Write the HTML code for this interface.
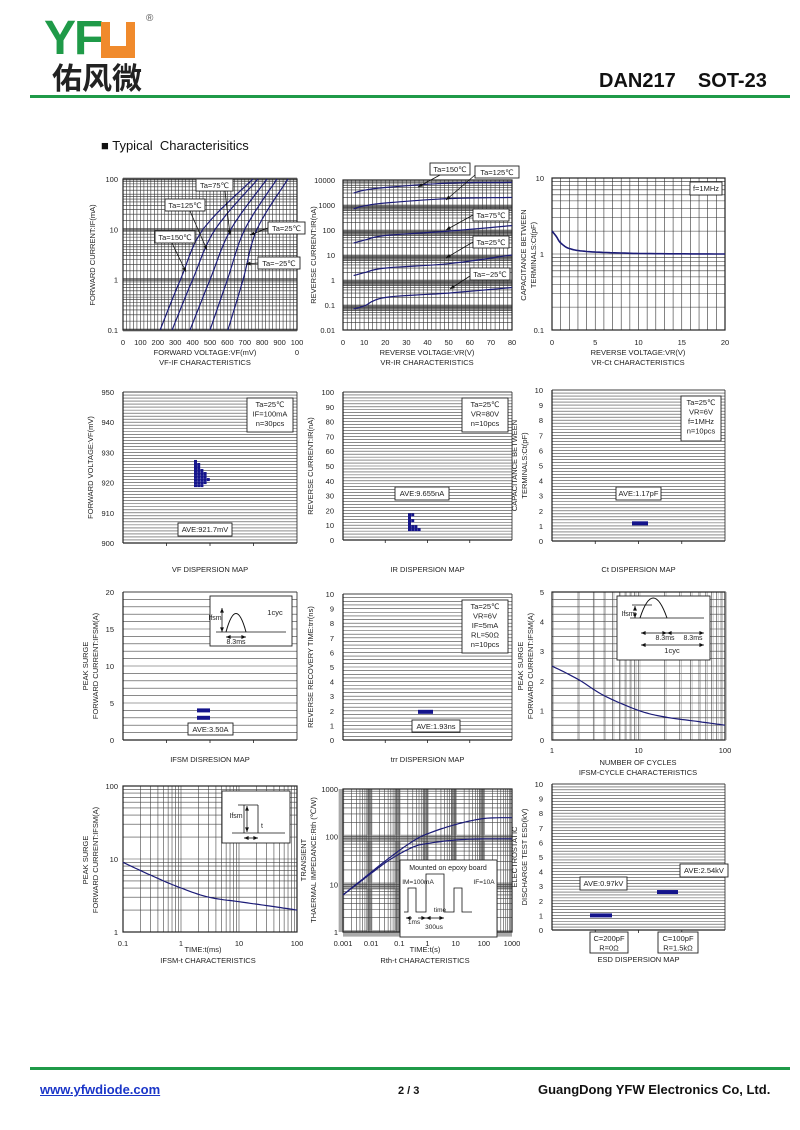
<!DOCTYPE html>
<html><head><meta charset="utf-8">
<style>
html,body{margin:0;padding:0;background:#fff;}
body{width:800px;height:1130px;position:relative;overflow:hidden;font-family:"Liberation Sans",sans-serif;}
.abs{position:absolute;white-space:nowrap;}
</style></head>
<body>
<div class="abs" style="left:44px;top:16px;font-size:48px;font-weight:bold;line-height:46px;letter-spacing:-2px;color:#1f9a48;">YF<span style="display:inline-block;width:34px;height:36px;background:#f08a2c;vertical-align:top;margin-top:6px;position:relative;"><span style="position:absolute;left:9px;top:0;width:16px;height:24px;background:#fff;"></span></span></div>
<div class="abs" style="left:146px;top:13px;font-size:10px;color:#555;">®</div>
<div class="abs" style="left:52px;top:60px;font-size:30px;font-weight:bold;line-height:32px;color:#222;font-family:'Noto Sans CJK SC',sans-serif;">佑风微</div>
<div class="abs" style="left:599px;top:70px;font-size:20px;font-weight:bold;color:#111;">DAN217&nbsp;&nbsp;&nbsp;&nbsp;SOT-23</div>
<div class="abs" style="left:30px;top:95px;width:760px;height:3px;background:#1f9a48;"></div>
<div class="abs" style="left:101px;top:138px;font-size:13px;color:#111;">■ Typical&nbsp; Characterisitics</div>
<div class="abs" style="left:30px;top:1067px;width:760px;height:3px;background:#1f9a48;"></div>
<div class="abs" style="left:40px;top:1082px;font-size:13px;font-weight:bold;color:#1a35c8;text-decoration:underline;">www.yfwdiode.com</div>
<div class="abs" style="left:398px;top:1085px;font-size:11px;font-weight:bold;color:#111;">2 / 3</div>
<div class="abs" style="left:538px;top:1082px;font-size:13px;font-weight:bold;color:#111;">GuangDong YFW Electronics Co, Ltd.</div>
<svg id="s" width="800" height="1130" style="position:absolute;left:0;top:0;" xmlns="http://www.w3.org/2000/svg"></svg>
<script>
var o='';var NV='#1c1c78';var GR='#333';
function L(x1,y1,x2,y2,c,w){o+='<line x1="'+x1+'" y1="'+y1+'" x2="'+x2+'" y2="'+y2+'" stroke="'+(c||GR)+'" stroke-width="'+(w||0.6)+'"/>';}
function R(x,y,w,h,f,s,sw){o+='<rect x="'+x+'" y="'+y+'" width="'+w+'" height="'+h+'" fill="'+(f||'none')+'" stroke="'+(s||'none')+'" stroke-width="'+(sw||1)+'"/>';}
function T(x,y,t,sz,anc,rot){o+='<text x="'+x+'" y="'+y+'" font-size="'+(sz||8)+'" fill="#222" font-family="Liberation Sans,DejaVu Sans,sans-serif" text-anchor="'+(anc||'middle')+'"'+(rot?' transform="rotate(-90 '+x+' '+y+')"':'')+'>'+t+'</text>';}
function P(pts,c,w){o+='<polyline points="'+pts.map(function(p){return p[0].toFixed(1)+','+p[1].toFixed(1)}).join(' ')+'" fill="none" stroke="'+(c||NV)+'" stroke-width="'+(w||1.2)+'"/>';}
function lin(a,b,p0,p1){return function(v){return p0+(v-a)/(b-a)*(p1-p0);};}
function lg(a,b,p0,p1){return function(v){return p0+(Math.log10(v)-Math.log10(a))/(Math.log10(b)-Math.log10(a))*(p1-p0);};}
function logvals(a,b,ks){var r=[];for(var d=Math.log10(a);d<Math.log10(b)-1e-9;d++){ks.forEach(function(k){r.push(k*Math.pow(10,d));});}r.push(b);return r;}
function box(x,y,lines,w,h){R(x,y,w,h,'#fff','#222',0.9);lines.forEach(function(t,i){T(x+w/2,y+9+i*9.5,t,7.5);});}
function frame(x0,y0,x1,y1){R(x0,y0,x1-x0,y1-y0,'none','#222',1.2);}
function smooth(fx,fy,pts){var q=pts.map(function(p){return [fx(p[0]),fy(p[1])];});var r=[];var n=q.length;
for(var i=0;i<n-1;i++){var p0=q[Math.max(i-1,0)],p1=q[i],p2=q[i+1],p3=q[Math.min(i+2,n-1)];
for(var s=0;s<10;s++){var t=s/10,t2=t*t,t3=t2*t;r.push([0,1].map(function(k){return 0.5*((2*p1[k])+(-p0[k]+p2[k])*t+(2*p0[k]-5*p1[k]+4*p2[k]-p3[k])*t2+(-p0[k]+3*p1[k]-3*p2[k]+p3[k])*t3);}));}}
r.push(q[n-1]);return r;}
function arrow(x1,y1,x2,y2){L(x1,y1,x2,y2,'#111',0.8);var a=Math.atan2(y2-y1,x2-x1),s=5;o+='<polygon points="'+x2+','+y2+' '+(x2-s*Math.cos(a-0.4))+','+(y2-s*Math.sin(a-0.4))+' '+(x2-s*Math.cos(a+0.4))+','+(y2-s*Math.sin(a+0.4))+'" fill="#111"/>';}

/* C1 VF-IF */
(function(){var x0=123,y0=179,x1=297,y1=330;var fx=lin(0,1000,x0,x1),fy=lg(0.1,100,y1,y0);
for(var v=0;v<=1000;v+=20)L(fx(v),y0,fx(v),y1);
logvals(0.1,100,[1,1.5,2,2.5,3,3.5,4,4.5,5,6,7,8,9]).forEach(function(v){L(x0,fy(v),x1,fy(v));});
[0.1,1,10,100].forEach(function(v){L(x0,fy(v)-1,x1,fy(v)-1,GR,0.6);L(x0,fy(v)+1,x1,fy(v)+1,GR,0.6);});
frame(x0,y0,x1,y1);
var c=[[213,330,460,747],[282,400,530,776],[385,500,620,828],[500,600,700,885],[603,690,770,948]];
c.forEach(function(a){P(smooth(fx,fy,[[a[0],0.1],[a[1],1],[a[2],10],[a[3],100]]));});
['0.1','1','10','100'].forEach(function(t,i){T(x0-5,fy([0.1,1,10,100][i])+3,t,7.5,'end');});
for(var i=0;i<=9;i++)T(fx(i*100),345,i==0?'0':i*100,7.5);T(fx(1000),345,'100',7.5);T(fx(1000),355,'0',7.5);
T(205,355,'FORWARD VOLTAGE:VF(mV)',7.5);T(205,365,'VF-IF CHARACTERISTICS',7.5);
T(95,255,'FORWARD CURRENT:IF(mA)',7.5,'middle',1);
box(196,179,['Ta=75℃'],37,12);arrow(225,191,230,235);
box(165,199,['Ta=125℃'],40,12);arrow(190,211,207,250);
box(155,231,['Ta=150℃'],40,12);arrow(172,243,186,272);
box(268,222,['Ta=25℃'],37,12);arrow(268,228,250,235);
box(258,257,['Ta=−25℃'],42,12);arrow(258,263,246,264);
})();
/* C2 VR-IR */
(function(){var x0=343,y0=180,x1=512,y1=330;var fx=lin(0,80,x0,x1),fy=lg(0.01,10000,y1,y0);
[0.1,1,10,100,1000].forEach(function(v){R(x0,fy(v),x1-x0,fy(v*0.6)-fy(v),'#999');});
for(var v=0;v<=80;v+=2)L(fx(v),y0,fx(v),y1);
logvals(0.01,10000,[1,2,3,4,5,6,7,8,9]).forEach(function(v){L(x0,fy(v),x1,fy(v));});
frame(x0,y0,x1,y1);
[[3000,5000,8000],[700,1200,2000],[30,60,150],[1.5,3,10],[0.07,0.2,0.5]].forEach(function(a){P(smooth(fx,fy,[[5,a[0]],[10,a[0]*1.3],[20,a[1]],[50,a[1]*1.5],[80,a[2]]]));});
['0.01','0.1','1','10','100','1000','10000'].forEach(function(t,i){T(x0-8,fy(Math.pow(10,i-2))+3,t,7.5,'end');});
for(var i=0;i<=8;i++)T(fx(i*10),345,i*10,7.5);
T(427,355,'REVERSE VOLTAGE:VR(V)',7.5);T(427,365,'VR-IR CHARACTERISTICS',7.5);
T(316,255,'REVERSE CURRENT:IR(nA)',7.5,'middle',1);
box(430,163,['Ta=150℃'],40,12);arrow(440,175,418,187);
box(475,166,['Ta=125℃'],44,12);arrow(475,175,446,200);
box(473,209,['Ta=75℃'],36,12);arrow(473,215,446,230);
box(473,236,['Ta=25℃'],36,12);arrow(473,242,446,258);
box(470,268,['Ta=−25℃'],40,12);arrow(470,276,450,289);
})();
/* C3 VR-Ct */
(function(){var x0=552,y0=178,x1=725,y1=330;var fx=lin(0,20,x0,x1),fy=lg(0.1,10,y1,y0);
for(var v=0;v<=20;v+=1)L(fx(v),y0,fx(v),y1);
logvals(0.1,10,[1,2,3,4,5,6,7,8,9]).forEach(function(v){L(x0,fy(v),x1,fy(v));});
frame(x0,y0,x1,y1);
P(smooth(fx,fy,[[0,2],[0.5,1.7],[1,1.4],[2,1.18],[4,1.08],[8,1.03],[12,1.01],[20,1.0]]),NV,1.6);
T(x0-8,fy(10)+3,'10',7.5,'end');T(x0-8,fy(1)+3,'1',7.5,'end');T(x0-8,fy(0.1)+3,'0.1',7.5,'end');
[0,5,10,15,20].forEach(function(v){T(fx(v),345,v,7.5);});
T(638,355,'REVERSE VOLTAGE:VR(V)',7.5);T(638,365,'VR-Ct CHARACTERISTICS',7.5);
T(526,255,'CAPACITANCE BETWEEN',7.5,'middle',1);T(536,255,'TERMINALS:Ct(pF)',7.5,'middle',1);
box(690,182,['f=1MHz'],32,13);
})();
function disp(x0,y0,x1,y1,lo,hi,step,labstep,ytitle,title,ty){var fy=lin(lo,hi,y1,y0);
for(var v=lo;v<=hi+1e-9;v+=step)L(x0,fy(v),x1,fy(v),'#444',0.6);
L(x0,y0,x0,y1,'#222',1.2);L(x0,y1,x1,y1,'#222',1.2);L(x0,y0,x1,y0,'#222',0.8);L(x1,y0,x1,y1,'#222',0.8);
for(var i=1;i<4;i++){var xx=x0+(x1-x0)*i/4;L(xx,y1,xx,y1+3,'#222',0.8);}
for(var v=lo;v<=hi+1e-9;v+=labstep)T(x0-9,fy(v)+3,Math.round(v*10)/10,7.5,'end');
ytitle.forEach(function(t,i){T(x0-30+i*10-(ytitle.length-1)*5,(y0+y1)/2,t,7.5,'middle',1);});
T((x0+x1)/2,ty,title,7.5);return fy;}
/* Row2 */
(function(){var fy=disp(123,392,297,543,900,950,1,10,['FORWARD VOLTAGE:VF(mV)'],'VF DISPERSION MAP',572);
for(var r=0;r<9;r++){var n=[1,2,2,3,4,4,5,4,3][r];for(var k=0;k<n;k++)R(194+k*3.2,fy(927-r)-1.5,3,3,'#14148c');}
box(247,398,['Ta=25℃','IF=100mA','n=30pcs'],46,34);box(178,523,['AVE:921.7mV'],54,13);
var fy2=disp(343,392,512,540,0,100,2,10,['REVERSE CURRENT:IR(nA)'],'IR DISPERSION MAP',572);
for(var r=0;r<6;r++){var n=[2,1,2,1,3,4][r];for(var k=0;k<n;k++)R(408+k*3.2,fy2(17-r*2)-1.5,3,3,'#14148c');}
box(462,398,['Ta=25℃','VR=80V','n=10pcs'],46,34);box(395,487,['AVE:9.655nA'],54,13);
var fy3=disp(552,390,725,541,0,10,0.2,1,['CAPACITANCE BETWEEN','TERMINALS:Ct(pF)'],'Ct DISPERSION MAP',572);
R(632,fy3(1.17)-2,16,4,'#14148c');
box(681,396,['Ta=25℃','VR=6V','f=1MHz','n=10pcs'],40,45);box(616,487,['AVE:1.17pF'],45,13);
})();
/* Row3 */
(function(){var fy=disp(123,592,297,740,0,20,1,5,['PEAK SURGE','FORWARD CURRENT:IFSM(A)'],'IFSM DISRESION MAP',762);
R(197,fy(4)-2,13,4,'#14148c');R(197,fy(3)-2,13,4,'#14148c');
box(188,723,['AVE:3.50A'],45,12);
R(210,596,82,50,'#fff','#222',0.9);L(216,632,286,632,'#111',0.8);o+='<path d="M226 632 Q236 595 246 632" fill="none" stroke="#111" stroke-width="1"/>';
arrow(222,620,222,608);arrow(222,620,222,632);T(215,620,'Ifsm',7,'middle');T(275,615,'1cyc',7.5);arrow(236,637,226,637);arrow(236,637,246,637);T(236,644,'8.3ms',7);
var fy2=disp(343,594,512,740,0,10,0.25,1,['REVERSE RECOVERY TIME:trr(ns)'],'trr DISPERSION MAP',762);
R(418,fy2(1.93)-2,15,4,'#14148c');
box(462,600,['Ta=25℃','VR=6V','IF=5mA','RL=50Ω','n=10pcs'],46,53);box(412,720,['AVE:1.93ns'],48,12);
var x0=552,y0=592,x1=725,y1=740,fx=lg(1,100,x0,x1),fy3=lin(0,5,y1,y0);
for(var v=0;v<=5;v+=0.25)L(x0,fy3(v),x1,fy3(v),'#444',0.6);
logvals(1,100,[1,2,3,4,5,6,7,8,9]).forEach(function(v){L(fx(v),y0,fx(v),y1,'#444',0.6);L(fx(v)+1.5,y0,fx(v)+1.5,y1,'#777',0.4);});
frame(x0,y0,x1,y1);
P(smooth(fx,fy3,[[1,2.5],[2,2.05],[4,1.5],[10,1.0],[20,0.78],[50,0.62],[100,0.5]]));
[0,1,2,3,4,5].forEach(function(v){T(x0-8,fy3(v)+3,v,7.5,'end');});
T(x0,753,'1',7.5);T(fx(10),753,'10',7.5);T(x1,753,'100',7.5);
T(638,765,'NUMBER OF CYCLES',7.5);T(638,775,'IFSM-CYCLE CHARACTERISTICS',7.5);
T(523,666,'PEAK SURGE',7.5,'middle',1);T(533,666,'FORWARD CURRENT:IFSM(A)',7.5,'middle',1);
R(617,596,93,64,'#fff','#222',0.9);L(630,618,704,618,'#111',0.8);o+='<path d="M640 618 Q653 578 667 618" fill="none" stroke="#111" stroke-width="1"/>';
L(632,605,652,605,'#111',0.8);arrow(635,610,635,606);arrow(635,612,635,618);T(628,616,'Ifsm',7);
arrow(655,633,641,633);arrow(655,633,667,633);T(665,640,'8.3ms',7);T(693,640,'8.3ms',7);arrow(683,633,667,633);arrow(683,633,704,633);
arrow(672,645,641,645);arrow(672,645,704,645);T(672,653,'1cyc',7.5);
})();
/* Row4 */
(function(){var x0=123,y0=786,x1=297,y1=932,fx=lg(0.1,100,x0,x1),fy=lg(1,100,y1,y0);
logvals(0.1,100,[1,2,3,4,5,6,7,8,9]).forEach(function(v){L(fx(v),y0,fx(v),y1,'#444',0.6);});
logvals(1,100,[1,2,3,4,5,6,7,8,9]).forEach(function(v){L(x0,fy(v),x1,fy(v),'#444',0.6);});
frame(x0,y0,x1,y1);
P(smooth(fx,fy,[[0.1,9],[0.3,6],[1,4],[3,3],[10,2.6],[30,2.3],[100,2]]));
T(x0-5,fy(100)+3,'100',7.5,'end');T(x0-5,fy(10)+3,'10',7.5,'end');T(x0-5,fy(1)+3,'1',7.5,'end');
T(x0,946,'0.1',7.5);T(fx(1),946,'1',7.5);T(fx(10),946,'10',7.5);T(x1,946,'100',7.5);
T(203,952,'TIME:t(ms)',7.5);T(208,963,'IFSM-t CHARACTERISTICS',7.5);
T(88,860,'PEAK SURGE',7.5,'middle',1);T(98,860,'FORWARD CURRENT:IFSM(A)',7.5,'middle',1);
R(222,791,68,52,'#fff','#222',0.9);L(232,833,285,833,'#111',0.8);L(238,805,258,805,'#111',0.8);L(258,805,258,833,'#111',0.8);L(244,805,244,833,'#111',0.8);
arrow(247,820,247,806);arrow(247,820,247,832);T(236,818,'Ifsm',7);arrow(251,838,244,838);arrow(251,838,258,838);T(262,828,'t',7);
x0=343;y0=789;x1=512;y1=932;var gx=lg(0.001,1000,x0,x1),gy=lg(1,1000,y1,y0);
[1,10,100].forEach(function(v){R(x0,gy(v*1.1),x1-x0,gy(v*0.8)-gy(v*1.1),'#aaa');});
[0.001,0.01,0.1,1,10,100].forEach(function(v){R(gx(v*0.7),y0,gx(v*1.1)-gx(v*0.7),y1-y0,'#aaa');});
logvals(0.001,1000,[1,2,3,4,5,6,7,8,9]).forEach(function(v){L(gx(v),y0,gx(v),y1,'#444',0.6);});
logvals(1,1000,[1,2,3,4,5,6,7,8,9]).forEach(function(v){L(x0,gy(v),x1,gy(v),'#444',0.6);});
frame(x0,y0,x1,y1);
P(smooth(gx,gy,[[0.001,6],[0.01,18],[0.05,38],[0.3,80],[1,115],[10,180],[100,240],[1000,250]]));
P(smooth(gx,gy,[[0.001,6],[0.01,17],[0.05,34],[0.3,60],[1,72],[10,85],[100,90],[1000,90]]));
T(x0-5,gy(1000)+3,'1000',7.5,'end');T(x0-5,gy(100)+3,'100',7.5,'end');T(x0-5,gy(10)+3,'10',7.5,'end');T(x0-5,gy(1)+3,'1',7.5,'end');
['0.001','0.01','0.1','1','10','100','1000'].forEach(function(t,i){T(gx(Math.pow(10,i-3)),946,t,7.5);});
T(425,952,'TIME:t(s)',7.5);T(425,963,'Rth-t CHARACTERISTICS',7.5);
T(306,860,'TRANSIENT',7.5,'middle',1);T(316,860,'THAERMAL IMPEDANCE:Rth (℃/W)',7.5,'middle',1);
R(400,860,97,77,'#fff','#222',0.9);T(448,870,'Mounted on epoxy board',7);T(418,884,'IM=100mA',6.5);T(484,884,'IF=10A',6.5);
o+='<polyline points="404,912 408,912 408,888 416,888 416,912 426,912 426,874 444,874 444,912 454,912 454,888 462,888 462,912 472,912" fill="none" stroke="#111" stroke-width="0.8"/>';
arrow(412,918,406,918);arrow(418,918,426,918);T(414,924,'1ms',6.5);arrow(436,918,426,918);arrow(436,918,444,918);T(440,912,'time',6.5);T(434,929,'300us',6.5);
var fy3=disp(552,784,725,930,0,10,0.2,1,['ELECTROSTATIC','DISCHARGE TEST ESD(kV)'],'ESD DISPERSION MAP',962);
R(590,fy3(1.0)-2,22,4,'#14148c');R(657,fy3(2.6)-2,21,4,'#14148c');
box(580,877,['AVE:0.97kV'],47,13);box(680,864,['AVE:2.54kV'],48,13);
box(590,932,['C=200pF','R=0Ω'],38,21);box(658,932,['C=100pF','R=1.5kΩ'],40,21);
})();
document.getElementById('s').innerHTML=o;
</script>
</body></html>
